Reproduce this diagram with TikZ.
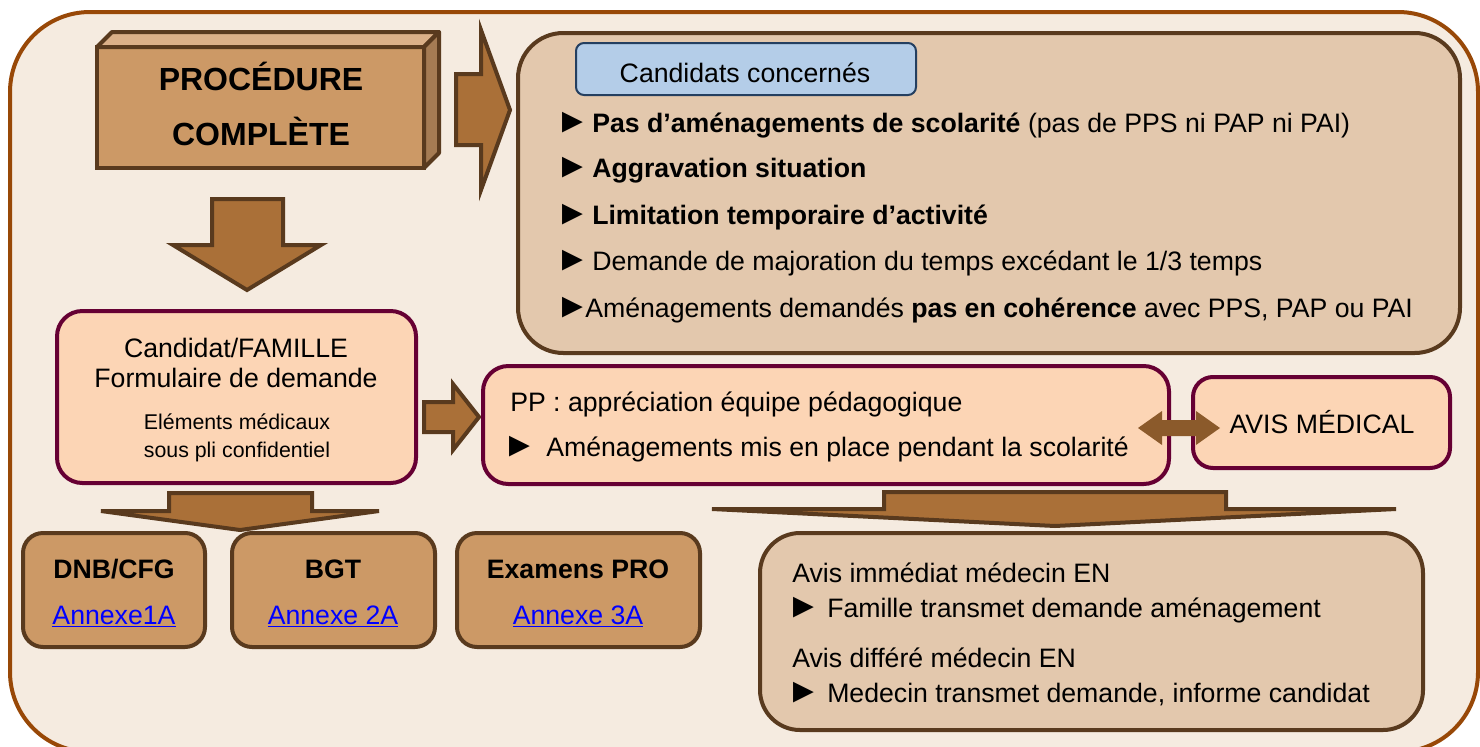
\documentclass[tikz,border=0pt]{standalone}
\usepackage{fontspec}
\usepackage{graphicx}
\setmainfont{Liberation Sans}
\usetikzlibrary{fit}
\definecolor{frameC}{HTML}{984807}
\definecolor{bgC}{HTML}{F5EBE0}
\definecolor{brownB}{HTML}{593A1E}
\definecolor{tanC}{HTML}{CC9966}
\definecolor{tanTop}{HTML}{DBB088}
\definecolor{tanSide}{HTML}{A57B53}
\definecolor{arrowC}{HTML}{AA7038}
\definecolor{beigeC}{HTML}{E3C8AD}
\definecolor{peachC}{HTML}{FCD5B5}
\definecolor{maroonC}{HTML}{660033}
\definecolor{blueF}{HTML}{B4CDE8}
\definecolor{blueB}{HTML}{243F60}
\definecolor{dblC}{HTML}{8B5A2B}
\definecolor{linkC}{HTML}{0000FF}
\newcommand\bul[1]{\makebox[#1][l]{\scalebox{1.3}{►}}}
\begin{document}
\begin{tikzpicture}[x=0.75pt,y=-0.75pt,
  box/.style={draw, line width=3pt, inner sep=0pt, outer sep=0pt},
  tanbox/.style={box, draw=brownB, fill=tanC, rounded corners=15pt},
  beigebox/.style={box, draw=brownB, fill=beigeC},
  peachbox/.style={box, draw=maroonC, fill=peachC},
  blockarrow/.style={draw=brownB, fill=arrowC, line width=3pt, line join=miter},
  txt/.style={inner sep=0pt, font=\fontsize{20}{24}\selectfont, anchor=base west},
  ctxt/.style={inner sep=0pt, font=\fontsize{20}{24}\selectfont, anchor=base},
  btxt/.style={ctxt, font=\fontsize{20}{24}\selectfont\bfseries},
  linktxt/.style={ctxt, text=linkC},
]
\useasboundingbox (0,0) rectangle (1480,746);
% outer frame
\node[box, draw=frameC, fill=bgC, rounded corners=60pt, fit={(10,12)(1478,752)}] (frame) {};

% PROCEDURE COMPLETE 3D box
\node[box, draw=brownB, fill=tanC, fit={(97,47)(424,168)}] (proc) {};
\draw[draw=brownB, fill=tanTop, line width=3pt, line join=round]
  (proc.north west) -- ++(15,-15) -- ++(327,0) -- (proc.north east) -- cycle;
\draw[draw=brownB, fill=tanSide, line width=3pt, line join=round]
  (proc.north east) -- ++(15,-15) -- ++(0,121) -- (proc.south east) -- cycle;
\node[ctxt, font=\fontsize{24}{28}\selectfont\bfseries] (procA) at (261,90) {PROCÉDURE};
\node[ctxt, font=\fontsize{24}{28}\selectfont\bfseries] (procB) at (261,145) {COMPLÈTE};

% arrows from PROCEDURE
\draw[blockarrow] (456,74) -- (481,74) -- (481,30) -- (510,110) -- (481,190) -- (481,145) -- (456,145) -- cycle;
\draw[blockarrow] (212,199) -- (283,199) -- (283,245) -- (321,245) -- (247,290) -- (173,245) -- (212,245) -- cycle;

% Candidats concernes box
\node[beigebox, rounded corners=34pt, fit={(518,33)(1460,353)}] (cc) {};
\node[box, draw=blueB, fill=blueF, line width=1.5pt, rounded corners=6pt, fit={(576,43)(916,95)}] (ccl) {};
\node[ctxt] (cclt) at (745,82) {Candidats concernés};
\node[txt] (b1) at (555,132) {\bul{27.75pt}\textbf{Pas d’aménagements de scolarité} (pas de PPS ni PAP ni PAI)};
\node[txt] (b2) at (555,177) {\bul{27.75pt}\textbf{Aggravation situation}};
\node[txt] (b3) at (555,224) {\bul{27.75pt}\textbf{Limitation temporaire d’activité}};
\node[txt] (b4) at (555,270) {\bul{27.75pt}Demande de majoration du temps excédant le 1/3 temps};
\node[txt] (b5) at (555,317) {\bul{22.5pt}Aménagements demandés \textbf{pas en cohérence} avec PPS, PAP ou PAI};

% Candidat / FAMILLE box
\node[peachbox, rounded corners=19pt, fit={(57,311)(416,483)}] (fam) {};
\node[ctxt] (fam1) at (236,357) {Candidat/FAMILLE};
\node[ctxt] (fam2) at (236,387) {Formulaire de demande};
\node[ctxt, font=\fontsize{16}{19}\selectfont] (fam3) at (237,429) {Eléments médicaux};
\node[ctxt, font=\fontsize{16}{19}\selectfont] (fam4) at (237,457) {sous pli confidentiel};

% small arrow to PP
\draw[blockarrow] (424,402) -- (453,402) -- (453,384) -- (479,417) -- (453,450) -- (453,432) -- (424,432) -- cycle;

% PP box
\node[peachbox, rounded corners=19pt, fit={(483,366)(1169,484)}] (pp) {};
\node[txt] (pp1) at (510,411) {PP : appréciation équipe pédagogique};
\node[txt] (pp2) at (502,456) {\bul{33pt}Aménagements mis en place pendant la scolarité};

% AVIS MEDICAL box
\node[peachbox, rounded corners=15pt, fit={(1193,377)(1450,468)}] (avis) {};
\node[ctxt] (avist) at (1322,433) {AVIS MÉDICAL};

% double arrow
\fill[dblC] (1138,428) -- (1162,411) -- (1162,420) -- (1196,420) -- (1196,411) -- (1220,428)
  -- (1196,445) -- (1196,436) -- (1162,436) -- (1162,445) -- cycle;

% wide arrows
\draw[blockarrow] (169,493) -- (312,493) -- (312,511) -- (379,511) -- (240,530) -- (101,511) -- (169,511) -- cycle;
\draw[blockarrow] (884,492) -- (1226,492) -- (1226,509) -- (1396,509) -- (1055,526) -- (712,509) -- (884,509) -- cycle;

% exam boxes
\node[tanbox, fit={(23,533)(205,647)}] (dnb) {};
\node[tanbox, fit={(232,533)(435,647)}] (bgt) {};
\node[tanbox, fit={(457,533)(700,647)}] (pro) {};
\node[btxt] (dnbt) at (114,578) {DNB/CFG};
\node[btxt] (bgtt) at (333,578) {BGT};
\node[btxt] (prot) at (578,578) {Examens PRO};
\node[linktxt] (dnbl) at (114,624) {\underline{Annexe1A}};
\node[linktxt] (bgtl) at (333,624) {\underline{Annexe 2A}};
\node[linktxt] (prol) at (578,624) {\underline{Annexe 3A}};

% Avis box
\node[beigebox, rounded corners=30pt, fit={(760,533)(1423,730)}] (av) {};
\node[txt] (av1) at (792,582) {Avis immédiat médecin EN};
\node[txt] (av2) at (786,617) {\bul{30.75pt}Famille transmet demande aménagement};
\node[txt] (av3) at (792,667) {Avis différé médecin EN};
\node[txt] (av4) at (786,702) {\bul{30.75pt}Medecin transmet demande, informe candidat};
\end{tikzpicture}
\end{document}
